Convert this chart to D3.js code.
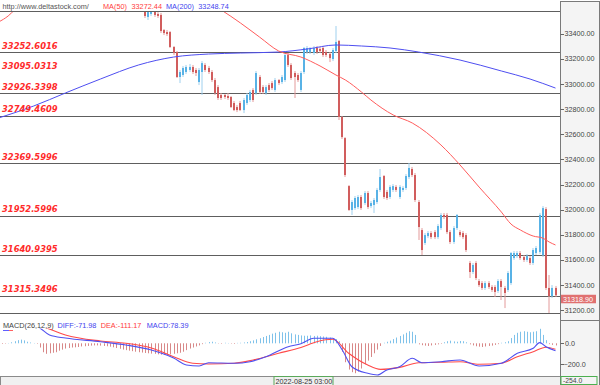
<!DOCTYPE html>
<html><head><meta charset="utf-8">
<script src="https://cdn.jsdelivr.net/npm/d3@7"></script>
<style>body{margin:0;background:#fff}svg{display:block}</style>
</head><body><svg id="c" width="600" height="385"></svg>
<script>
// ---------- DATA ----------
const firstCandleIndex = 46; // earlier bars are above the visible price range
// [open, high, low, close]
const candles = [
[33629,33669,33526,33542],[33534,33589,33510,33573],[33558,33605,33542,33589],[33589,33605,33534,33550],
[33558,33573,33526,33542],[33550,33566,33406,33422],[33430,33438,33390,33406],[33414,33430,33382,33398],
[33414,33422,33287,33295],[33295,33303,33231,33247],[33255,33263,33048,33056],[33056,33112,33008,33096],
[33072,33144,33056,33128],[33096,33152,33080,33136],[33112,33160,33096,33136],[33136,33152,33080,33096],
[33112,33128,33064,33088],[33016,33128,32992,33112],[33096,33183,32913,33167],[33152,33167,33096,33112],
[33128,33144,33080,33096],[33096,33112,33016,33032],[33032,33048,32913,32929],[32976,32992,32873,32889],
[32913,32929,32873,32889],[32913,32921,32881,32897],[32905,32929,32873,32889],[32897,32905,32809,32817],
[32849,32865,32785,32793],[32817,32833,32777,32793],[32849,32865,32785,32793],[32793,32889,32769,32873],
[32849,32929,32833,32913],[32873,32953,32857,32937],[32953,32968,32857,32873],[32929,33104,32913,33088],
[33056,33072,32921,32937],[32976,32992,32921,32937],[32929,32992,32913,32976],[32992,33008,32937,32953],
[33008,33024,32953,32968],[32953,33048,32937,33032],[33032,33040,32992,33008],[33016,33072,33000,33056],
[33032,33247,33016,33231],[33231,33247,33136,33152],[33152,33167,33032,33048],[33088,33104,32889,33056],
[33072,33088,33016,33032],[32953,33104,32937,33088],[33096,33295,33080,33287],[33255,33303,33239,33287],
[33255,33295,33239,33279],[33247,33303,33231,33287],[33287,33303,33239,33255],[33279,33295,33247,33263],
[33287,33303,33215,33231],[33255,33271,33215,33231],[33239,33255,33175,33207],[33199,33287,33183,33271],
[33263,33462,33247,33335],[33343,33351,32714,32738],[32738,32746,32563,32578],[32570,32578,32260,32276],
[32188,32196,31990,31998],[31998,32077,31958,32061],[32013,32109,31998,32093],[32021,32117,32005,32101],
[32101,32117,31998,32013],[32053,32149,32037,32133],[32133,32149,32005,32021],[32029,32069,32013,32053],
[32037,32093,31974,32077],[32061,32173,32045,32157],[32157,32324,32141,32260],[32268,32276,32085,32101],
[32141,32157,32077,32093],[32101,32196,32085,32181],[32157,32204,32141,32188],[32181,32196,32141,32157],
[32101,32196,32085,32181],[32157,32188,32141,32173],[32173,32284,32157,32268],[32260,32372,32244,32332],
[32324,32340,32260,32276],[32276,32292,32061,32077],[32061,32077,31759,31862],[31838,31854,31639,31679],
[31735,31814,31719,31798],[31790,31830,31774,31814],[31814,31830,31766,31782],[31822,31838,31766,31782],
[31782,31886,31766,31870],[31854,31974,31838,31958],[31958,31974,31926,31942],[31958,31974,31806,31822],
[31822,31838,31727,31743],[31743,31870,31727,31854],[31854,31966,31838,31958],[31822,31838,31782,31798],
[31814,31830,31766,31782],[31798,31814,31663,31679],[31576,31592,31456,31504],[31504,31576,31488,31560],
[31576,31592,31440,31456],[31432,31448,31385,31400],[31416,31432,31361,31377],[31377,31432,31361,31416],
[31416,31432,31369,31385],[31385,31400,31345,31361],[31385,31400,31305,31345],[31353,31448,31337,31432],
[31432,31448,31281,31385],[31377,31393,31217,31337],[31361,31512,31345,31496],[31416,31663,31400,31655],
[31615,31671,31600,31655],[31631,31671,31615,31655],[31655,31671,31600,31615],[31623,31639,31584,31600],
[31600,31647,31584,31631],[31615,31631,31560,31576],[31576,31695,31560,31679],[31655,31711,31639,31695],
[31663,31974,31647,31958],[31639,32029,31623,32013],[32005,32021,31361,31377],[31377,31480,31178,31313],
[31313,31400,31297,31377],[31377,31393,31305,31318.9]
];
// moving averages, [bar index, value]
const ma50 = [[0,33494],[3,33542],[5,33589],[8,33640],[20,33760],[40,33800],[60,33720],[66,33650],
[70,33589],[76,33486],[82,33374],[88,33263],[95,33215],[101,33144],[106,33072],[109,33032],[114,32937],
[117,32873],[124,32754],[130,32690],[139,32515],[145,32356],[151,32180],[158,31981],[161,31886],
[164,31838],[168,31790],[171,31774],[173,31743],[175,31719]];
const ma200 = [[0,32730],[11,32825],[21,32929],[32,33040],[44,33152],[55,33215],[66,33239],[76,33247],
[88,33255],[97,33279],[106,33311],[114,33303],[123,33287],[132,33255],[145,33191],[158,33104],[167,33040],[175,32968]];
const levels = [33252.6016, 33095.0313, 32926.3398, 32749.4609, 32369.5996, 31952.5996, 31640.9395, 31315.3496];
const levelLabels = ["33252.6016","33095.0313","32926.3398","32749.4609","32369.5996","31952.5996","31640.9395","31315.3496"];
const levelHasLine = [true,false,true,true,true,true,true,true];
const priceTicks = [33400,33200,33000,32800,32600,32400,32200,32000,31800,31600,31400,31200];
const lastPrice = 31318.90;
// MACD histogram, bar indices 1..175
const macdHist = [
-6,-4,3,10,20,30,35,28,15,8,3,-5,
-40,-85,-100,-95,-90,-85,-70,-60,-50,
-45,-40,-38,-35,-30,-28,-25,-22,-20,-20,-22,-25,-28,-32,
-38,-45,-52,-60,-65,-70,-75,-80,-85,-88,-92,-95,-98,
-100,-105,-108,-110,-108,-105,-100,-95,-90,-80,
-65,-50,-40,-30,-20,
-8,5,12,15,8,
-3,-5,5,3,-4,-6,4,5,8,
12,20,28,38,48,60,70,80,92,100,110,105,100,110,95,85,80,75,72,
72,75,70,72,68,65,62,55,48,40,20,
-80,-180,-250,-275,-285,-270,-240,-200,-165,-130,-95,-60,-25,5,
15,25,
40,55,70,85,100,115,110,80,
-10,-18,-22,-25,-20,-15,-10,-5,
10,20,25,18,15,22,20,10,
-10,-20,-28,-32,-35,-30,-25,-22,-15,-8,
5,10,20,
50,80,100,110,115,110,105,110,115,140,80,
30,-8,-15,-20];
const diffLine = [[8,230],[13,146],[16,79],[21,50],[32,15],[40,-16],[48,-64],[55,-140],[59,-206],[63,-216],
[66,-185],[74,-190],[79,-175],[84,-128],[91,-32],[95,-4],[99,48],[105,48],[108,-64],[111,-223],[116,-286],
[119,-302],[122,-254],[126,-223],[130,-143],[133,-185],[139,-175],[145,-159],[151,-216],[158,-190],
[163,-95],[168,-48],[170,6],[172,-32],[175,-70]];
const deaLine = [[10,200],[15,146],[21,79],[32,22],[40,0],[48,-45],[55,-128],[61,-190],[66,-197],[74,-190],
[80,-159],[88,-95],[95,-40],[100,15],[105,38],[110,-95],[116,-207],[120,-248],[126,-229],[132,-185],
[139,-181],[145,-175],[151,-200],[158,-190],[163,-128],[168,-80],[172,-38],[175,-57]];
const macdTicks = [0,-200];
const timeLabel = "2022-08-25 03:00";
const macdValueLabel = "-254.0";

// ---------- LAYOUT ----------
const svg = d3.select('#c');
const plotR = 560.5, mainTop = 11.5, mainBot = 313, macdBot = 376.5;
const x = d3.scaleLinear().domain([46,175]).range([145,555.5]);
const y = d3.scaleLinear().domain([31200,33400]).range([310.2,33.8]);
const ym = d3.scaleLinear().domain([-200,0]).range([364.3,343.3]);
const FONT = '"Liberation Sans", Arial, sans-serif';

const defs = svg.append('defs');
defs.append('clipPath').attr('id','clipMain').append('rect').attr('x',0).attr('y',mainTop).attr('width',plotR).attr('height',mainBot-mainTop);
defs.append('clipPath').attr('id','clipMacd').append('rect').attr('x',0).attr('y',mainBot).attr('width',plotR).attr('height',macdBot-mainBot);

svg.append('rect').attr('width',600).attr('height',385).attr('fill','#fff');

// ---------- MAIN PANEL ----------
const gMain = svg.append('g').attr('clip-path','url(#clipMain)');
levels.forEach((v,i)=>{
  if(!levelHasLine[i]) return;
  const yy = Math.round(y(v))+0.5;
  gMain.append('line').attr('x1',0).attr('x2',plotR).attr('y1',yy).attr('y2',yy)
    .attr('stroke','#5e5e5e').attr('stroke-width',1.2);
});
const cData = candles.map((d,k)=>({i:firstCandleIndex+k,o:d[0],h:d[1],l:d[2],c:d[3]}));
const cg = gMain.selectAll('g.c').data(cData).join('g');
cg.append('line')
  .attr('x1',d=>Math.round(x(d.i))).attr('x2',d=>Math.round(x(d.i)))
  .attr('y1',d=>y(d.h)).attr('y2',d=>y(d.l))
  .attr('stroke',d=>d.c>=d.o?'#9fd0ee':'#e39a9a').attr('stroke-width',1);
cg.append('rect')
  .attr('x',d=>Math.round(x(d.i))-1).attr('width',2)
  .attr('y',d=>y(Math.max(d.o,d.c)))
  .attr('height',d=>Math.max(1,Math.abs(y(d.o)-y(d.c))))
  .attr('fill',d=>d.c>=d.o?'#58b2e6':'#d15d5d');
const line = d3.line().x(d=>x(d[0])).y(d=>y(d[1])).curve(d3.curveMonotoneX);
gMain.append('path').attr('d',line(ma200)).attr('fill','none').attr('stroke','#4e4ef0').attr('stroke-width',1);
gMain.append('path').attr('d',line(ma50)).attr('fill','none').attr('stroke','#ff5c5c').attr('stroke-width',1);
svg.append('line').attr('x1',0).attr('x2',plotR).attr('y1',mainTop).attr('y2',mainTop).attr('stroke','#5e5e5e').attr('stroke-width',1.2);

svg.append('g').selectAll('text').data(levels).join('text')
  .attr('x',2).attr('y',d=>y(d)-3.3)
  .attr('font-family','"DejaVu Sans", Verdana, sans-serif').attr('font-weight','bold').attr('font-style','italic')
  .attr('font-size',8.4).attr('fill','#ff2a2a')
  .text((d,i)=>levelLabels[i]);

const hdr = svg.append('text').attr('x',2.5).attr('y',8.6).attr('font-family',FONT).attr('font-size',7.3);
hdr.append('tspan').attr('fill','#555').text('http://www.deltastock.com/');
hdr.append('tspan').attr('x',103).attr('fill','#ff3c3c').text('MA(50)');
hdr.append('tspan').attr('x',131.5).attr('fill','#ff3c3c').text('33272.44');
hdr.append('tspan').attr('x',166).attr('fill','#4444ee').text('MA(200)');
hdr.append('tspan').attr('x',198.3).attr('fill','#4444ee').text('33248.74');

// ---------- MACD PANEL ----------
const gM = svg.append('g').attr('clip-path','url(#clipMacd)');
const hData = macdHist.map((v,k)=>({i:k+1,v}));
gM.selectAll('rect.h').data(hData).join('rect')
  .attr('x',d=>Math.round(x(d.i))).attr('width',1)
  .attr('y',d=>Math.min(ym(d.v),ym(0))).attr('height',d=>Math.abs(ym(d.v)-ym(0)))
  .attr('fill',d=>d.v>=0?'#7fc2ea':'#d88888');
const mline = d3.line().x(d=>x(d[0])).y(d=>ym(d[1])).curve(d3.curveMonotoneX);
gM.append('path').attr('d',mline(deaLine)).attr('fill','none').attr('stroke','#ff4a4a').attr('stroke-width',1.1);
gM.append('path').attr('d',mline(diffLine)).attr('fill','none').attr('stroke','#5050f0').attr('stroke-width',1.1);
gM.append('rect').attr('x',0).attr('y',mainBot).attr('width',plotR).attr('height',15.5).attr('fill','#fff');
const mh = svg.append('text').attr('x',3).attr('y',327.5).attr('font-family',FONT).attr('font-size',7.3);
mh.append('tspan').attr('fill','#444').text('MACD(26,12,9)');
mh.append('tspan').attr('x',57.5).attr('fill','#4444ee').text('DIFF:-71.98');
mh.append('tspan').attr('x',100.7).attr('fill','#ff3c3c').text('DEA:-111.17');
mh.append('tspan').attr('x',146.7).attr('fill','#4444ee').text('MACD:78.39');
svg.append('line').attr('x1',3).attr('x2',13).attr('y1',330.5).attr('y2',330.5).attr('stroke','#ff6060').attr('stroke-width',1);
svg.append('line').attr('x1',3).attr('x2',9).attr('y1',330.5).attr('y2',330.5).attr('stroke','#6060ff').attr('stroke-width',1);
svg.append('line').attr('x1',0).attr('x2',plotR).attr('y1',mainBot+0.5).attr('y2',mainBot+0.5).attr('stroke','#5e5e5e').attr('stroke-width',1.2);

// ---------- TIME AXIS ----------
svg.append('rect').attr('x',0.5).attr('y',macdBot).attr('width',plotR-0.5).attr('height',12).attr('fill','#f0f0f0').attr('stroke','#8a8a8a');
svg.append('rect').attr('x',274).attr('y',macdBot).attr('width',59).attr('height',12).attr('fill','#f0f0f0').attr('stroke','#5aa85a');
svg.append('text').attr('x',275.5).attr('y',383.8).attr('font-family',FONT).attr('font-size',7.2).attr('fill','#333').text(timeLabel);

// ---------- RIGHT AXIS ----------
svg.append('rect').attr('x',plotR).attr('y',1.5).attr('width',39).attr('height',390).attr('fill','#f4f4f4').attr('stroke','#7a7a7a');
svg.append('line').attr('x1',plotR).attr('x2',600).attr('y1',320.5).attr('y2',320.5).attr('stroke','#7a7a7a');
const ax = svg.append('g');
ax.selectAll('line.t').data(priceTicks).join('line')
  .attr('x1',plotR).attr('x2',plotR+3.5).attr('y1',d=>Math.round(y(d))+0.5).attr('y2',d=>Math.round(y(d))+0.5).attr('stroke','#666');
ax.selectAll('text.t').data(priceTicks).join('text')
  .attr('x',564.5).attr('y',d=>y(d)).attr('dy','0.35em')
  .attr('font-family',FONT).attr('font-size',7.2).attr('fill','#444')
  .text(d=>d3.format('.2f')(d));
const ly = y(lastPrice);
svg.append('rect').attr('x',561).attr('y',ly-0.5).attr('width',35).attr('height',8.5).attr('fill','#e07070');
svg.append('text').attr('x',563).attr('y',ly+4).attr('dy','0.35em').attr('font-family',FONT).attr('font-size',7.2).attr('fill','#fff').text(d3.format('.2f')(lastPrice));
ax.selectAll('line.m').data(macdTicks).join('line')
  .attr('x1',plotR).attr('x2',plotR+3.5).attr('y1',d=>Math.round(ym(d))+0.5).attr('y2',d=>Math.round(ym(d))+0.5).attr('stroke','#666');
ax.selectAll('text.m').data(macdTicks).join('text')
  .attr('x',d=>d<0?563.5:565).attr('y',d=>ym(d)).attr('dy','0.35em')
  .attr('font-family',FONT).attr('font-size',7.2).attr('fill','#444')
  .text(d=>d3.format('.1f')(d));
svg.append('rect').attr('x',561).attr('y',376.5).attr('width',36).attr('height',8).attr('fill','#f4f4f4').attr('stroke','#4caf50');
svg.append('text').attr('x',563).attr('y',383.2).attr('font-family',FONT).attr('font-size',6.8).attr('fill','#444').text(macdValueLabel);
</script></body></html>
